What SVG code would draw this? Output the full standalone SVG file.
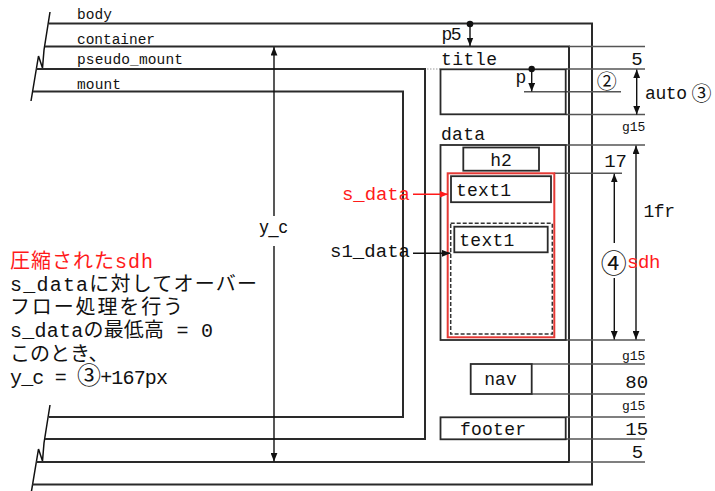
<svg xmlns="http://www.w3.org/2000/svg" width="715" height="491" viewBox="0 0 715 491">
<style>
.frame{fill:none;stroke:#2a2a2a;stroke-width:2}
.box{fill:none;stroke:#2a2a2a;stroke-width:1.8}
.ext{fill:none;stroke:#555;stroke-width:1.5}
.brk{fill:none;stroke:#111;stroke-width:1.5}
.conn{fill:none;stroke:#111;stroke-width:1.4}
.mono{font-family:"Liberation Mono","Noto Sans CJK JP",monospace;fill:#111}
.lbl{font-size:14.5px}
.big{font-size:18px}
.small{font-size:13px}
.jp{font-family:"Liberation Mono","Noto Sans CJK JP",monospace;font-size:20px;fill:#111}
.cjk{font-family:"Noto Sans CJK JP",sans-serif;fill:#111}
.red{fill:#ff1a1a}
</style>
<defs>
<marker id="ah" viewBox="0 0 10 8" refX="10" refY="4" markerWidth="8.5" markerHeight="7" markerUnits="userSpaceOnUse" orient="auto-start-reverse"><path d="M0,0 L10,4 L0,8 z" fill="#111"/></marker>
<marker id="ahr" viewBox="0 0 10 8" refX="10" refY="4" markerWidth="8.5" markerHeight="7" markerUnits="userSpaceOnUse" orient="auto"><path d="M0,0 L10,4 L0,8 z" fill="#ff1a1a"/></marker>
</defs>
<rect width="715" height="491" fill="#fff"/>

<!-- break lines -->
<g id="breaks">
<path class="brk" d="M50,12 L44,50 L42.5,68 L38.5,56 L31,101"/>
<path class="brk" d="M50,405 L44,443 L42.5,461 L38.5,449 L31,494"/>
</g>

<g id="body">
<polyline class="frame" points="49,23.5 592,23.5 592,484.5 32,484.5"/>
<text class="mono lbl" x="77" y="19" textLength="35" lengthAdjust="spacing">body</text>
</g>
<g id="container">
<polyline class="frame" points="45,46.5 569,46.5 569,462 36,462"/>
<text class="mono lbl" x="77" y="44" textLength="78" lengthAdjust="spacing">container</text>
</g>
<g id="pseudo_mount">
<polyline class="frame" points="36,69 425,69 425,439 45,439"/>
<text class="mono lbl" x="77" y="63.5" textLength="106" lengthAdjust="spacing">pseudo_mount</text>
</g>
<g id="mount">
<polyline class="frame" points="33,91.5 403,91.5 403,417 49,417"/>
<text class="mono lbl" x="77" y="89" textLength="44" lengthAdjust="spacing">mount</text>
</g>

<!-- extension / guide lines -->
<g id="guides">
<line class="ext" x1="569" y1="46.5" x2="645" y2="46.5"/>
<line class="ext" x1="566" y1="69" x2="645" y2="69"/>
<line x1="427" y1="69" x2="440" y2="69" stroke="#999" stroke-width="1" stroke-dasharray="1.5 1.5"/>
<line class="ext" x1="524" y1="91.7" x2="621" y2="91.7" stroke="#777"/>
<line class="ext" x1="566" y1="114.5" x2="645" y2="114.5"/>
<line class="ext" x1="566" y1="145" x2="645" y2="145"/>
<line class="ext" x1="554" y1="173.3" x2="622" y2="173.3" stroke="#222"/>
<line class="ext" x1="566" y1="340" x2="645" y2="340"/>
<line class="ext" x1="531.7" y1="364" x2="645" y2="364"/>
<line class="ext" x1="531.7" y1="394" x2="645" y2="394" stroke="#222"/>
<line class="ext" x1="566" y1="417" x2="645" y2="417"/>
<line class="ext" x1="566" y1="439" x2="645" y2="439"/>
<line class="ext" x1="569" y1="462" x2="645" y2="462"/>
</g>

<g id="title">
<text class="mono big" x="441" y="65" textLength="56" lengthAdjust="spacing">title</text>
<rect class="box" x="440.5" y="69.3" width="125.2" height="45"/>
</g>
<g id="data">
<text class="mono big" x="441" y="140" textLength="44" lengthAdjust="spacing">data</text>
<rect class="box" x="440.5" y="145" width="125.2" height="195"/>
</g>
<g id="h2">
<rect class="box" x="463.3" y="147.5" width="75.7" height="23.2"/>
<text class="mono big" x="501" y="166" text-anchor="middle">h2</text>
</g>
<g id="s_data">
<rect x="447.7" y="173.3" width="106.6" height="164" fill="none" stroke="#e53935" stroke-width="2"/>
<text class="mono red" font-size="19" x="342" y="200" textLength="68" lengthAdjust="spacing">s_data</text>
</g>
<g id="text1_a">
<rect class="box" x="451" y="176.2" width="100" height="26"/>
<text class="mono big" x="456" y="195.5" textLength="55" lengthAdjust="spacing">text1</text>
</g>
<g id="s1_data">
<rect x="450.7" y="223.3" width="101.6" height="110.7" fill="none" stroke="#333" stroke-width="1.5" stroke-dasharray="4 2"/>
<text class="mono" font-size="19" x="330" y="257" textLength="80" lengthAdjust="spacing">s1_data</text>
</g>
<g id="text1_b">
<rect class="box" x="454.3" y="226.7" width="93.4" height="25.6"/>
<text class="mono big" x="459.3" y="245.5" textLength="55" lengthAdjust="spacing">text1</text>
</g>
<g id="nav">
<rect class="box" x="470.7" y="364" width="61" height="30"/>
<text class="mono big" x="500.5" y="385" text-anchor="middle">nav</text>
</g>
<g id="footer">
<rect class="box" x="440.5" y="417.3" width="125.2" height="22"/>
<text class="mono big" x="460" y="435" textLength="66" lengthAdjust="spacing">footer</text>
</g>

<!-- connectors / dimension arrows -->
<g id="connectors">
<line class="conn" x1="274" y1="216" x2="274" y2="47" marker-end="url(#ah)"/>
<line class="conn" x1="274" y1="246" x2="274" y2="461.5" marker-end="url(#ah)"/>
<circle cx="470" cy="24" r="3.3" fill="#111"/>
<line class="conn" x1="470" y1="24" x2="470" y2="46" marker-end="url(#ah)"/>
<circle cx="531.7" cy="69" r="3.2" fill="#111"/>
<line class="conn" x1="531.7" y1="69" x2="531.7" y2="91.5" marker-end="url(#ah)"/>
<line class="conn" x1="636.7" y1="69.5" x2="636.7" y2="114.5" marker-start="url(#ah)" marker-end="url(#ah)"/>
<line class="conn" x1="636" y1="145.5" x2="636" y2="339.5" marker-start="url(#ah)" marker-end="url(#ah)"/>
<line class="conn" x1="614.3" y1="243" x2="614.3" y2="173.8" marker-end="url(#ah)"/>
<line class="conn" x1="614.3" y1="278" x2="614.3" y2="339.5" marker-end="url(#ah)"/>
<line x1="413" y1="194.3" x2="448" y2="194.3" stroke="#ff1a1a" stroke-width="1.4" marker-end="url(#ahr)"/>
<line class="conn" x1="413" y1="253.3" x2="450.5" y2="253.3" marker-end="url(#ah)"/>
</g>

<!-- dimension labels -->
<g id="dims">
<text font-family="Liberation Sans,Arial,sans-serif" font-size="18" fill="#111" x="273.5" y="233" text-anchor="middle">y_c</text>
<text class="mono big" x="441.5" y="40" textLength="20" lengthAdjust="spacing">p5</text>
<text class="mono big" x="515.5" y="83">p</text>
<text class="mono" font-size="19" x="637" y="65" text-anchor="middle">5</text>
<text class="cjk" font-size="20" x="606.7" y="89.2" text-anchor="middle">②</text>
<text class="mono big" x="645" y="98.5" textLength="42" lengthAdjust="spacing">auto</text>
<text class="cjk" font-size="20" x="701.5" y="100.8" text-anchor="middle">③</text>
<text class="mono small" x="633.7" y="131" text-anchor="middle">g15</text>
<text class="mono" font-size="19" x="627" y="166.7" text-anchor="end">17</text>
<text class="mono big" x="643.5" y="217.3" textLength="31.5" lengthAdjust="spacing">1fr</text>
<text class="cjk" font-size="26" x="613.8" y="272.5" text-anchor="middle">④</text>
<text class="mono red" font-size="19" x="627" y="268.3" textLength="33.3" lengthAdjust="spacing">sdh</text>
<text class="mono small" x="633.7" y="360" text-anchor="middle">g15</text>
<text class="mono" font-size="19" x="636.7" y="388.3" text-anchor="middle">80</text>
<text class="mono small" x="633.7" y="409.5" text-anchor="middle">g15</text>
<text class="mono" font-size="19" x="636.7" y="435" text-anchor="middle">15</text>
<text class="mono" font-size="19" x="637.5" y="458.3" text-anchor="middle">5</text>
</g>

<!-- note -->
<g id="note">
<text class="jp" fill="#ff1a1a" style="fill:#ff1a1a" x="10" y="267.5" textLength="143" lengthAdjust="spacing">圧縮されたsdh</text>
<text class="jp" x="10" y="290.8" textLength="247" lengthAdjust="spacing">s_dataに対してオーバー</text>
<text class="jp" x="10" y="314.1" textLength="173" lengthAdjust="spacing">フロー処理を行う</text>
<text class="jp" x="10" y="337.4" textLength="203" lengthAdjust="spacing">s_dataの最低高 = 0</text>
<text class="jp" x="10" y="360.7">このとき、</text>
<text class="jp" x="10" y="384" textLength="158" lengthAdjust="spacing">y_c = <tspan font-size="24">③</tspan>+167px</text>
</g>
</svg>
